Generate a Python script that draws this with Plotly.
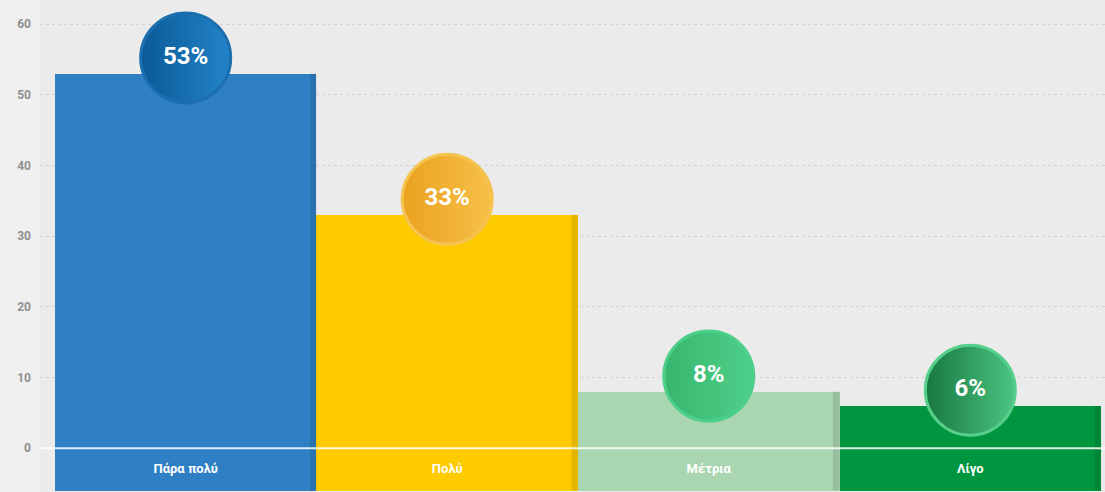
import plotly.graph_objects as go

categories = ["Πάρα πολύ", "Πολύ", "Μέτρια", "Λίγο"]
values = [53, 33, 8, 6]
labels = ["53%", "33%", "8%", "6%"]

BASE = -6
bar_colors = ["#2e7fc4", "#fecb00", "#a9d5b0", "#00963f"]
circle_left = ["#0a5a96", "#eba21f", "#36b56d", "#17773f"]
circle_right = ["#2383c8", "#f7c04a", "#4fd08a", "#4cc582"]
circle_ring = ["#1c6fae", "#f5c350", "#4ccf88", "#55cf8a"]

xs = list(range(len(categories)))
fig = go.Figure()

fig.add_trace(go.Bar(
    x=xs, y=[v - BASE for v in values], base=BASE, width=1.0,
    marker=dict(color=bar_colors, line=dict(width=0)),
    hoverinfo="skip", showlegend=False,
))

# right-edge shadows on bars
for i, v in enumerate(values):
    fig.add_shape(type="rect", xref="x", yref="y",
                  x0=xs[i] + 0.5 - 0.025, x1=xs[i] + 0.5, y0=BASE, y1=v,
                  fillcolor="rgba(0,0,0,0.10)", line=dict(width=0), layer="above")

# zero line
fig.add_shape(type="line", xref="paper", yref="y", x0=0, x1=1, y0=0, y1=0,
              line=dict(color="rgba(255,255,255,0.85)", width=2), layer="above")

# category labels inside bars below zero
fig.add_trace(go.Scatter(
    x=xs, y=[BASE / 2] * len(xs), mode="text", text=[f"<b>{c}</b>" for c in categories],
    textfont=dict(color="white", size=13, family="Liberation Sans Narrow, Roboto, sans-serif"),
    textposition="middle center", hoverinfo="skip", showlegend=False,
))

# percentage circles
for i, v in enumerate(values):
    fig.add_trace(go.Scatter(
        x=[xs[i]], y=[v + 2.2], mode="markers+text", text=[f"<b>{labels[i]}</b>"],
        textposition="middle center",
        textfont=dict(color="white", size=24, family="Roboto, sans-serif"),
        marker=dict(size=90, color=circle_left[i],
                    gradient=dict(type="horizontal", color=circle_right[i]),
                    line=dict(color=circle_ring[i], width=3)),
        hoverinfo="skip", showlegend=False, cliponaxis=False,
    ))

fig.update_layout(
    width=1105, height=492,
    margin=dict(l=40, r=0, t=0, b=0),
    paper_bgcolor="#f0f0f0", plot_bgcolor="#ebebeb",
    bargap=0,
    xaxis=dict(range=[-0.557, 3.515], showticklabels=False, showgrid=False,
               zeroline=False, fixedrange=True),
    yaxis=dict(range=[-6.2, 63.4], tickvals=[0, 10, 20, 30, 40, 50, 60],
               ticktext=[f"<b>{t}</b>" for t in [0, 10, 20, 30, 40, 50, 60]],
               tickfont=dict(color="#8f8f8f", size=12, family="Roboto, sans-serif"),
               showgrid=True, gridcolor="#d3d3d3", griddash="dot", gridwidth=1,
               zeroline=False, ticklabelstandoff=8),
)

fig.write_html("out.html")
